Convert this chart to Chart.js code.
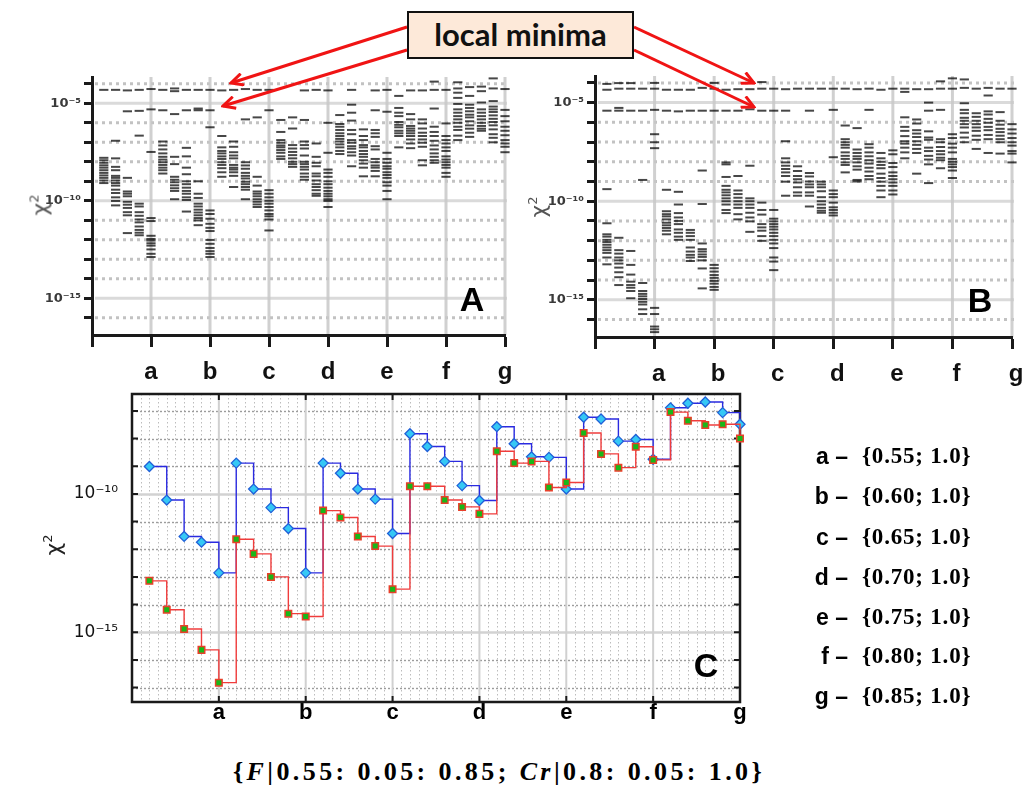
<!DOCTYPE html>
<html><head><meta charset="utf-8">
<script src="https://cdn.jsdelivr.net/npm/chart.js@4.4.1/dist/chart.umd.min.js"></script>
<style>
html,body{margin:0;padding:0;background:#fff;width:1031px;height:787px;overflow:hidden;position:relative;font-family:'Liberation Sans',Arial,sans-serif;}
canvas{position:absolute;}
.chi{position:absolute;transform:translate(-50%,-50%) rotate(-90deg);font:22px 'DejaVu Sans';white-space:nowrap;}
.chi sup{font-size:13px;vertical-align:9px;line-height:0;}
.big{position:absolute;transform:translate(-50%,-50%);font:700 34px 'Liberation Sans';color:#000;line-height:1;}
.lrow{position:absolute;height:30px;line-height:30px;white-space:nowrap;}
.lrow .let{position:absolute;right:183px;font:700 23px 'Liberation Sans';}
.lrow .par{position:absolute;left:862px;font:700 23px 'Liberation Serif';letter-spacing:0.8px;}
#formula{position:absolute;left:499px;top:772px;transform:translate(-50%,-50%);font:700 26px 'Liberation Serif';letter-spacing:3.4px;white-space:nowrap;}
#lm{position:absolute;left:407px;top:11px;width:227px;height:48px;box-sizing:border-box;border:2.5px solid #111;background:#fde9d9;font:700 31px Lato;text-align:center;line-height:42px;color:#111;}
</style></head><body>
<canvas id="cA" width="530" height="340" style="left:0;top:60px;width:530px;height:340px"></canvas>
<canvas id="cB" width="530" height="340" style="left:500px;top:60px;width:530px;height:340px"></canvas>
<canvas id="cC" width="760" height="360" style="left:0;top:380px;width:760px;height:360px"></canvas>

<svg width="1031" height="130" style="position:absolute;left:0;top:0">
<defs><marker id="ah" viewBox="0 0 15 14" markerWidth="15" markerHeight="14" refX="13" refY="7" orient="auto" markerUnits="userSpaceOnUse"><path d="M1,1 L13,7 L1,13" fill="none" stroke="#f01414" stroke-width="3"/></marker></defs>
<g stroke="#f01414" stroke-width="3" fill="none">
<line x1="407" y1="27" x2="231" y2="83" marker-end="url(#ah)"/>
<line x1="407" y1="50" x2="223" y2="106" marker-end="url(#ah)"/>
<line x1="634" y1="27" x2="754" y2="83" marker-end="url(#ah)"/>
<line x1="634" y1="50" x2="754" y2="107" marker-end="url(#ah)"/>
</g></svg>
<div id="lm">local minima</div>

<div class="chi" style="left:40px;top:205px;color:#555">χ<sup>2</sup></div>
<div class="chi" style="left:538px;top:207px;color:#555">χ<sup>2</sup></div>
<div class="chi" style="left:53px;top:545px;color:#222">χ<sup>2</sup></div>
<div class="big" style="left:472px;top:299px">A</div>
<div class="big" style="left:980px;top:300px">B</div>
<div class="big" style="left:706px;top:665px">C</div>
<div id="legend"></div>
<div id="formula">{<i>F</i>|0.55: 0.05: 0.85; <i>Cr</i>|0.8: 0.05: 1.0}</div>

<script>
// ---------- data ----------
const groupLabels = ['a','b','c','d','e','f','g'];
const fValues = ['0.55','0.60','0.65','0.70','0.75','0.80','0.85'];
const crValue = '1.0';
const xTickValues = [0,1,2,3,4,5,6,7];
const xPositions = [0.2,0.4,0.6,0.8,1.0, 1.2,1.4,1.6,1.8,2.0, 2.2,2.4,2.6,2.8,3.0, 3.2,3.4,3.6,3.8,4.0, 4.2,4.4,4.6,4.8,5.0, 5.2,5.4,5.6,5.8,6.0, 6.2,6.4,6.6,6.8,7.0];
const decadeTicksAB = [1e-16,1e-15,1e-14,1e-13,1e-12,1e-11,1e-10,1e-9,1e-8,1e-7,1e-6,1e-5,1e-4];
const decadeTicksC = [1e-17,1e-16,1e-15,1e-14,1e-13,1e-12,1e-11,1e-10,1e-9,1e-8,1e-7];
const labeledDecades = [-5,-10,-15];

// Panel A: chi^2 of runs, 5 Cr columns per F group
const A_a = [
[4.9e-5,1.6e-8,1.2e-8,8.9e-9,6.6e-9,5.0e-9,3.7e-9,2.7e-9,2.0e-9,1.5e-9,1.1e-9,8.1e-10],
[4.9e-5,1.2e-7,1.5e-8,5.5e-9,3.7e-9,1.9e-9,1.5e-9,1.1e-9,8.1e-10,6.0e-10,3.7e-10,2.5e-10,1.5e-10,9.8e-11,5.8e-11],
[4.6e-5,3.9e-6,1.5e-9,3.0e-10,2.3e-10,1.7e-10,8.9e-11,6.3e-11,4.3e-11,2.6e-11,1.8e-11,2.2e-12],
[4.9e-5,4.1e-6,2.2e-7,7.1e-11,5.1e-11,2.6e-11,1.7e-11,1.1e-11,7.8e-12,4.8e-12,3.2e-12,2.3e-12,1.7e-12],
[5.4e-5,4.9e-6,3.2e-8,1.3e-11,9.1e-12,1.6e-12,1.1e-12,9.1e-13,6.6e-13,5.0e-13,3.2e-13,1.9e-13,1.3e-13]];
const A_b = [
[4.9e-5,4.4e-6,1.1e-7,6.9e-8,4.3e-8,2.7e-8,1.8e-8,1.3e-8,9.5e-9,6.9e-9,5.0e-9,3.7e-9,2.5e-9],
[5.8e-5,4.2e-5,2.8e-6,1.8e-8,7.6e-9,1.7e-9,1.2e-9,8.9e-10,6.2e-10,4.4e-10,3.2e-10,1.2e-10],
[4.9e-5,4.4e-6,5.2e-8,1.9e-8,5.0e-9,2.3e-9,1.0e-9,7.1e-10,4.7e-10,3.2e-10,2.3e-10,1.5e-10,1.1e-10,2.8e-11],
[4.9e-5,5.4e-6,4.4e-6,1.0e-9,2.3e-10,1.4e-10,7.1e-11,5.1e-11,3.5e-11,2.5e-11,1.8e-11,1.3e-11,9.8e-12,5.6e-12],
[4.9e-5,4.4e-6,5.9e-7,3.2e-11,2.1e-11,1.2e-11,6.6e-12,4.1e-12,2.8e-12,9.8e-13,6.2e-13,3.8e-13,2.6e-13,1.9e-13,1.3e-13]];
const A_c = [
[4.6e-5,2.1e-7,5.5e-8,3.6e-8,2.7e-8,1.9e-8,1.4e-8,9.5e-9,6.9e-9,4.7e-9,2.9e-9,1.7e-9],
[4.9e-5,1.1e-7,5.9e-8,3.1e-8,2.1e-8,1.5e-8,6.9e-9,5.0e-9,4.0e-9,2.9e-9,1.9e-9,5.1e-10],
[5.4e-5,1.5e-6,9.5e-9,6.5e-9,4.4e-9,2.7e-9,1.9e-9,1.4e-9,9.5e-10,7.1e-10,5.1e-10,3.7e-10,1.2e-10],
[4.9e-5,1.9e-6,1.7e-9,6.0e-10,3.0e-10,2.3e-10,1.7e-10,1.2e-10,8.9e-11,6.5e-11,4.8e-11],
[4.9e-5,4.4e-6,3.5e-10,2.3e-10,1.5e-10,1.0e-10,7.1e-11,4.8e-11,3.2e-11,2.1e-11,1.6e-11,1.1e-11,3.0e-12]];
const A_d = [
[1.4e-6,3.4e-7,1.3e-7,9.5e-8,6.9e-8,5.5e-8,4.0e-8,2.9e-8,1.9e-8,1.4e-8],
[1.9e-6,5.1e-7,7.2e-8,4.8e-8,3.2e-8,2.2e-8,1.5e-8,1.0e-8,7.6e-9,5.5e-9],
[4.6e-5,1.4e-6,1.1e-7,7.2e-8,4.8e-8,2.1e-8,1.0e-8,7.6e-9,5.5e-9,4.0e-9,2.5e-9,1.7e-9,1.2e-9],
[4.9e-5,8.7e-8,1.8e-8,8.9e-9,5.9e-9,2.5e-9,1.8e-9,1.1e-9,7.1e-10,5.1e-10,3.5e-10,2.3e-10,1.8e-10],
[4.6e-5,1.0e-6,2.9e-8,4.0e-9,2.7e-9,1.7e-9,1.0e-9,7.1e-10,4.7e-10,3.2e-10,2.3e-10,1.7e-10,1.2e-10,9.8e-11,4.8e-11]];
const A_e = [
[2.5e-6,8.7e-7,6.3e-7,4.3e-7,2.9e-7,2.1e-7,1.5e-7,1.1e-7,7.8e-8,5.5e-8,3.6e-8,2.5e-8],
[4.9e-5,8.5e-6,3.3e-6,1.3e-6,4.3e-7,2.6e-7,1.3e-7,9.5e-8,6.3e-8,4.7e-8,3.1e-8,2.1e-8,5.9e-9],
[4.6e-7,2.1e-7,1.3e-7,7.2e-8,5.5e-8,3.6e-8,2.5e-8,1.8e-8,1.2e-8,8.1e-9,5.0e-9,1.8e-9],
[4.6e-5,4.4e-6,4.3e-7,2.9e-7,1.9e-7,6.3e-8,4.3e-8,1.4e-8,9.5e-9,6.5e-9,5.0e-9,3.4e-9,1.8e-9],
[4.9e-5,3.7e-6,2.9e-8,1.4e-8,8.9e-9,5.9e-9,4.4e-9,2.9e-9,2.1e-9,1.5e-9,8.9e-10,6.0e-10,3.2e-10,1.2e-10]];
const A_f = [
[2.4e-5,5.8e-6,3.3e-6,2.2e-6,1.1e-6,7.9e-7,5.9e-7,3.9e-7,2.9e-7,2.1e-7,5.5e-8],
[4.6e-5,2.8e-6,1.5e-6,6.9e-7,5.1e-7,3.9e-7,2.9e-7,2.1e-7,1.4e-7,8.7e-8,5.0e-8],
[4.6e-5,1.5e-6,9.3e-7,5.1e-7,3.1e-7,2.1e-7,1.4e-7,9.5e-8,5.9e-8,1.2e-8,6.6e-9],
[1.3e-4,4.9e-5,5.4e-6,6.3e-7,3.4e-7,2.1e-7,1.2e-7,6.9e-8,4.3e-8,2.7e-8,1.8e-8,1.2e-8,8.9e-9],
[4.9e-5,9.3e-7,2.1e-7,1.3e-7,8.7e-8,5.5e-8,3.6e-8,1.9e-8,1.3e-8,9.5e-9,6.9e-9,5.0e-9,2.7e-9,1.7e-9]];
const A_g = [
[1.2e-4,5.8e-5,3.5e-5,1.9e-5,9.3e-6,4.9e-6,3.3e-6,2.2e-6,1.5e-6,1.0e-6,6.3e-7,4.3e-7,2.2e-7,1.3e-7],
[6.8e-5,2.4e-5,8.5e-6,5.8e-6,3.9e-6,2.6e-6,1.9e-6,1.2e-6,7.4e-7,5.0e-7,3.1e-7,1.9e-7],
[7.2e-5,4.2e-5,1.1e-5,4.9e-6,3.3e-6,2.2e-6,1.5e-6,1.0e-6,6.9e-7,5.0e-7,3.9e-7],
[1.9e-4,5.8e-5,1.3e-5,6.8e-6,4.9e-6,3.6e-6,2.4e-6,1.6e-6,1.1e-6,7.4e-7,4.6e-7,2.6e-7,1.7e-7,1.0e-7],
[5.4e-5,4.6e-6,2.2e-6,1.2e-6,6.3e-7,3.9e-7,2.3e-7,1.3e-7,8.7e-8,5.9e-8,3.1e-8]];

// Panel B
const B_a = [
[8.9e-5,4.5e-5,3.9e-6,4.1e-10,7.6e-12,2.1e-12,1.6e-12,1.1e-12,8.5e-13,6.2e-13,4.5e-13,3.3e-13,2.4e-13,1.4e-13,6.3e-14],
[9.8e-5,5.1e-5,5.4e-6,3.9e-6,1.4e-12,3.3e-13,2.2e-13,1.4e-13,1.0e-13,6.9e-14,4.3e-14,2.5e-14,1.4e-14,5.6e-15],
[9.8e-5,5.1e-5,3.9e-6,3.0e-13,5.9e-14,1.9e-14,8.3e-15,5.6e-15,4.1e-15,2.8e-15,1.2e-15],
[5.1e-5,3.9e-6,1.2e-9,7.1e-15,2.8e-15,2.0e-15,1.5e-15,1.1e-15,7.9e-16,5.8e-16,3.3e-16,1.9e-16],
[1.0e-4,5.1e-5,4.3e-6,2.5e-7,9.8e-8,4.9e-8,3.9e-16,1.9e-16,4.4e-17,3.2e-17,2.3e-17]];
const B_b = [
[4.5e-5,3.9e-6,3.8e-10,3.1e-11,2.2e-11,1.7e-11,1.2e-11,8.1e-12,6.0e-12,4.4e-12,3.2e-12,2.1e-12],
[4.5e-5,3.6e-6,3.0e-10,6.8e-11,2.5e-11,1.5e-11,1.0e-11,6.9e-12,3.7e-12,2.5e-12,1.6e-12,1.1e-12],
[4.5e-5,3.9e-6,3.5e-12,2.5e-12,1.7e-12,1.1e-12,4.5e-13,2.8e-13,1.9e-13,1.4e-13,9.3e-14],
[5.6e-5,3.9e-6,3.6e-9,7.2e-11,7.2e-13,3.7e-13,2.8e-13,2.0e-13,1.5e-13,1.0e-13,3.9e-14,3.8e-15],
[1.0e-4,5.1e-5,3.9e-6,5.9e-14,4.0e-14,2.7e-14,1.8e-14,1.3e-14,9.1e-15,6.6e-15,4.5e-15,3.2e-15]];
const B_c = [
[4.5e-5,3.9e-6,9.3e-9,7.4e-9,1.7e-9,6.0e-10,3.8e-10,2.8e-10,2.0e-10,1.4e-10,1.0e-10,6.8e-11,3.6e-11,2.5e-11],
[4.8e-5,3.9e-6,1.9e-9,3.5e-10,2.3e-10,1.5e-10,1.0e-10,6.8e-11,4.6e-11,2.2e-11,1.2e-11],
[4.8e-5,4.6e-6,6.3e-9,1.4e-10,1.0e-10,6.8e-11,4.6e-11,2.6e-11,1.5e-11,9.5e-12,2.8e-12],
[1.1e-4,5.1e-5,3.9e-6,8.5e-11,3.6e-11,2.1e-11,6.9e-12,4.7e-12,3.2e-12,1.7e-12,9.8e-13],
[5.1e-5,3.9e-6,3.6e-11,1.3e-11,9.5e-12,6.9e-12,5.1e-12,3.7e-12,2.5e-12,1.7e-12,1.1e-12,7.2e-13,4.2e-13,1.4e-13,8.7e-14,3.2e-14]];
const B_d = [
[4.8e-5,3.9e-6,1.1e-7,1.5e-8,9.3e-9,6.3e-9,4.3e-9,2.9e-9,1.9e-9,9.8e-10,1.9e-10],
[5.1e-5,5.9e-9,3.4e-9,1.9e-9,1.3e-9,8.9e-10,5.1e-10,2.8e-10,1.9e-10],
[5.1e-5,3.9e-6,2.7e-9,1.8e-9,1.0e-9,7.1e-10,5.1e-10,2.8e-10,1.9e-10,5.4e-11],
[5.1e-5,9.8e-10,7.1e-10,5.1e-10,3.2e-10,1.6e-10,1.0e-10,6.8e-11,4.6e-11,3.3e-11,2.6e-11],
[5.1e-5,4.3e-6,1.7e-8,3.5e-10,2.3e-10,1.6e-10,8.5e-11,4.9e-11,3.6e-11,2.6e-11,1.9e-11]];
const B_e = [
[5.1e-5,6.9e-7,1.4e-7,9.8e-8,7.2e-8,5.2e-8,3.0e-8,2.0e-8,1.4e-8,9.3e-9,6.9e-9,2.9e-9],
[4.8e-5,5.1e-7,4.2e-8,2.8e-8,1.9e-8,1.4e-8,9.3e-9,5.9e-9,4.0e-9,1.2e-9,1.0e-9],
[5.1e-5,4.3e-6,7.8e-8,5.2e-8,3.0e-8,1.9e-8,1.2e-8,8.1e-9,5.0e-9,3.2e-9,1.9e-9,1.3e-9],
[4.5e-5,2.8e-8,1.5e-8,1.0e-8,6.9e-9,4.7e-9,2.5e-9,1.5e-9,9.8e-10,6.0e-10,3.5e-10,1.6e-10],
[5.1e-5,3.8e-8,2.4e-8,8.7e-9,5.4e-9,2.9e-9,1.9e-9,1.3e-9,8.9e-10,6.0e-10,3.5e-10,2.2e-10]];
const B_f = [
[5.1e-5,3.5e-5,1.8e-6,5.9e-7,3.7e-7,2.0e-7,1.1e-7,8.3e-8,5.2e-8,3.0e-8,1.5e-8],
[4.8e-5,1.4e-6,8.7e-7,4.0e-7,2.7e-7,1.8e-7,1.1e-7,7.2e-8,4.5e-8,2.8e-8,2.5e-9],
[4.8e-5,1.0e-5,3.9e-6,3.5e-7,1.7e-7,1.3e-7,5.2e-8,3.5e-8,2.0e-8,1.3e-8,7.4e-9,8.3e-10],
[1.2e-4,5.1e-5,4.3e-6,1.4e-7,9.8e-8,5.6e-8,3.5e-8,2.4e-8,1.6e-8,1.2e-8,4.7e-9],
[1.7e-4,5.1e-5,2.5e-7,1.6e-7,8.3e-8,5.2e-8,3.0e-8,1.4e-8,1.0e-8,7.4e-9,5.4e-9,3.6e-9,1.5e-9]];
const B_g = [
[1.5e-4,5.6e-5,9.3e-6,4.3e-6,2.9e-6,1.7e-6,1.2e-6,8.1e-7,5.5e-7,3.0e-7,1.7e-7,9.8e-8],
[5.1e-5,2.9e-6,1.9e-6,1.2e-6,8.1e-7,5.5e-7,3.7e-7,2.1e-7,1.3e-7,4.5e-8],
[5.6e-5,2.3e-5,3.6e-6,2.5e-6,1.5e-6,9.5e-7,5.9e-7,4.0e-7,2.3e-7,1.4e-7,2.8e-8],
[5.1e-5,3.3e-6,1.2e-6,7.6e-7,4.7e-7,3.2e-7,2.1e-7,1.4e-7,9.8e-8,2.6e-8],
[5.1e-5,8.1e-7,4.4e-7,2.7e-7,1.6e-7,9.8e-8,6.6e-8,3.5e-8,2.6e-8,9.3e-9]];

// Panel C: best chi^2 per (F, Cr) setting for two strategies
const C_blue = [9.8e-10,6.0e-11,2.9e-12,1.8e-12,1.4e-13, 1.3e-9,1.5e-10,3.2e-11,5.6e-12,1.4e-13,
  1.3e-9,5.6e-10,1.5e-10,6.5e-11,3.7e-12, 1.5e-8,5.2e-9,1.5e-9,2.0e-10,5.8e-11,
  2.7e-8,6.5e-9,2.2e-9,2.1e-9,1.5e-10, 5.9e-8,5.1e-8,8.1e-9,9.3e-9,1.8e-9,
  1.3e-7,1.9e-7,2.1e-7,8.7e-8,3.3e-8];
const C_red = [7.2e-14,6.5e-15,1.3e-15,2.3e-16,1.5e-17, 2.3e-12,6.8e-13,1.0e-13,4.7e-15,3.7e-15,
  2.5e-11,1.4e-11,2.9e-12,1.3e-12,3.6e-14, 1.9e-10,1.9e-10,6.0e-11,3.4e-11,1.9e-11,
  3.5e-9,1.3e-9,1.5e-9,1.7e-10,2.6e-10, 1.6e-8,2.8e-9,8.9e-10,5.1e-9,1.7e-9,
  9.1e-8,4.4e-8,3.1e-8,3.3e-8,1.0e-8];

// ---------- helpers ----------
const supMap = {'-':'⁻','0':'⁰','1':'¹','2':'²','3':'³','4':'⁴','5':'⁵','6':'⁶','7':'⁷','8':'⁸','9':'⁹'};
const sup = e => String(e).split('').map(c => supMap[c]).join('');
const decadeLabel = v => { const e = Math.round(Math.log10(v)); return labeledDecades.includes(e) ? '10' + sup(e) : ''; };

const gridABPlugin = { id: 'gridAB', beforeDraw(chart) {
  const {ctx, chartArea: a, scales: {x, y}} = chart;
  ctx.save();
  ctx.lineWidth = 3;
  decadeTicksAB.forEach(v => {
    const e = Math.round(Math.log10(v)); const py = y.getPixelForValue(v);
    ctx.beginPath();
    if (e % 5 === 0) { ctx.setLineDash([]); ctx.strokeStyle = '#dadada'; }
    else { ctx.setLineDash([3, 4]); ctx.strokeStyle = '#c2c2c2'; }
    ctx.moveTo(a.left + 3, py); ctx.lineTo(a.right + 2, py); ctx.stroke();
  });
  ctx.setLineDash([]); ctx.strokeStyle = 'rgba(200,200,200,0.85)';
  xTickValues.slice(1).forEach(k => { const px = x.getPixelForValue(k);
    ctx.beginPath(); ctx.moveTo(px, a.top); ctx.lineTo(px, a.bottom); ctx.stroke(); });
  ctx.restore();
}};

function abChart(id, groups, o) {
  const cols = [].concat(...groups);
  const pts = [];
  cols.forEach((col, i) => col.forEach(v => pts.push({x: xPositions[i], y: v})));
  return new Chart(document.getElementById(id), {
    type: 'scatter',
    data: { datasets: [{ data: pts, pointStyle: 'line', pointRadius: 4.6, pointHoverRadius: 4.6,
      borderColor: 'rgba(0,0,0,0.72)', pointBorderColor: 'rgba(0,0,0,0.72)', borderWidth: 2, pointBorderWidth: 2, clip: false }] },
    options: {
      responsive: false, animation: false, events: [], devicePixelRatio: 1,
      layout: { padding: { left: 0, top: o.top, right: o.right, bottom: 0 } },
      plugins: { legend: { display: false }, tooltip: { enabled: false } },
      scales: {
        x: { type: 'linear', min: 0, max: 7,
          afterBuildTicks: s => { s.ticks = xTickValues.map(v => ({ value: v })); },
          afterFit: s => { s.height = o.xh; s.paddingLeft = 0; s.paddingRight = 0; },
          ticks: { autoSkip: false, maxRotation: 0, padding: 11, labelOffset: o.lo, color: '#111',
            font: { family: "'Liberation Sans'", size: 24, weight: 'bold' },
            callback: v => v >= 1 ? groupLabels[v - 1] : '' },
          grid: { drawOnChartArea: false, drawTicks: true, tickLength: 12, tickWidth: 3, tickColor: '#1a1a1a' },
          border: { display: true, width: 3, color: '#1a1a1a' } },
        y: { type: 'logarithmic', min: 1.3e-17, max: 2.24e-4,
          afterBuildTicks: s => { s.ticks = decadeTicksAB.map(v => ({ value: v })); },
          afterFit: s => { s.width = o.yw; s.paddingTop = 0; s.paddingBottom = 0; },
          ticks: { autoSkip: false, padding: 3, color: '#3a3a3a',
            font: { family: "'DejaVu Sans'", size: 13, weight: 'bold' }, callback: decadeLabel },
          grid: { drawOnChartArea: false, drawTicks: true, tickLength: 8, tickWidth: 3, tickColor: '#1a1a1a' },
          border: { display: true, width: 3, color: '#1a1a1a' } }
      }
    },
    plugins: [gridABPlugin]
  });
}

abChart('cA', [A_a, A_b, A_c, A_d, A_e, A_f, A_g], { top: 17, right: 25, xh: 65, yw: 92, lo: 0 });
abChart('cB', [B_a, B_b, B_c, B_d, B_e, B_f, B_g], { top: 16, right: 18, xh: 63, yw: 95, lo: 4 });

const gridCPlugin = { id: 'gridC',
  beforeDraw(chart) {
    const {ctx, chartArea: a, scales: {x, y}} = chart;
    ctx.save();
    ctx.lineWidth = 1; ctx.strokeStyle = '#bcbcbc'; ctx.setLineDash([1.5, 2.5]);
    for (let k = 1; k < 70; k++) { if (k % 10 === 0) continue;
      const px = Math.round(x.getPixelForValue(k / 10)) + 0.5;
      ctx.beginPath(); ctx.moveTo(px, a.top); ctx.lineTo(px, a.bottom); ctx.stroke(); }
    decadeTicksC.forEach(v => { const e = Math.round(Math.log10(v)); const py = Math.round(y.getPixelForValue(v)) + 0.5;
      ctx.beginPath();
      if (e % 5 === 0) { ctx.setLineDash([]); ctx.lineWidth = 2.5; ctx.strokeStyle = '#d2d2d2'; }
      else { ctx.setLineDash([2, 2]); ctx.lineWidth = 1.4; ctx.strokeStyle = '#9c9c9c'; }
      ctx.moveTo(a.left, py); ctx.lineTo(a.right, py); ctx.stroke(); });
    ctx.setLineDash([]); ctx.lineWidth = 2; ctx.strokeStyle = '#d0d0d0';
    xTickValues.slice(1, 7).forEach(k => { const px = x.getPixelForValue(k);
      ctx.beginPath(); ctx.moveTo(px, a.top); ctx.lineTo(px, a.bottom); ctx.stroke(); });
    ctx.restore();
  },
  beforeDatasetsDraw(chart) {
    const {ctx, chartArea: a, scales: {x, y}} = chart;
    ctx.save();
    ctx.strokeStyle = '#1a1a1a'; ctx.lineWidth = 2.5;
    ctx.strokeRect(a.left, a.top, a.right - a.left, a.bottom - a.top);
    ctx.lineWidth = 2;
    decadeTicksC.forEach(v => { const py = y.getPixelForValue(v);
      ctx.beginPath(); ctx.moveTo(a.left, py); ctx.lineTo(a.left + 6, py);
      ctx.moveTo(a.right, py); ctx.lineTo(a.right - 6, py); ctx.stroke(); });
    xTickValues.slice(1, 7).forEach(k => { const px = x.getPixelForValue(k);
      ctx.beginPath(); ctx.moveTo(px, a.top); ctx.lineTo(px, a.top + 6);
      ctx.moveTo(px, a.bottom); ctx.lineTo(px, a.bottom - 6); ctx.stroke(); });
    ctx.restore();
  }
};

new Chart(document.getElementById('cC'), {
  type: 'line',
  data: { datasets: [
    { data: C_red.map((v, i) => ({ x: xPositions[i], y: v })), stepped: true, borderColor: '#f03c3c', borderWidth: 1.4,
      pointStyle: 'rect', pointRadius: 4.6, pointHoverRadius: 4.6, pointBackgroundColor: '#18b818', pointBorderColor: '#e8402a', pointBorderWidth: 1.5, clip: false },
    { data: C_blue.map((v, i) => ({ x: xPositions[i], y: v })), stepped: true, borderColor: '#2a2ae0', borderWidth: 1.4,
      pointStyle: 'rectRot', pointRadius: 5, pointHoverRadius: 5, pointBackgroundColor: '#35c8f5', pointBorderColor: '#2060d8', pointBorderWidth: 1.3, clip: false }
  ] },
  options: {
    responsive: false, animation: false, events: [], devicePixelRatio: 1,
    layout: { padding: { left: 0, top: 14, right: 20, bottom: 0 } },
    plugins: { legend: { display: false }, tooltip: { enabled: false } },
    scales: {
      x: { type: 'linear', min: 0, max: 7,
        afterBuildTicks: s => { s.ticks = xTickValues.map(v => ({ value: v })); },
        afterFit: s => { s.height = 38; s.paddingLeft = 0; s.paddingRight = 0; },
        ticks: { autoSkip: false, maxRotation: 0, padding: -2, color: '#000',
          font: { family: "'Liberation Sans'", size: 22, weight: 'bold' },
          callback: v => v >= 1 ? groupLabels[v - 1] : '' },
        grid: { display: true, drawOnChartArea: false, drawTicks: false }, border: { display: false } },
      y: { type: 'logarithmic', min: 3.2e-18, max: 4.1e-7,
        afterBuildTicks: s => { s.ticks = decadeTicksC.map(v => ({ value: v })); },
        afterFit: s => { s.width = 132; s.paddingTop = 0; s.paddingBottom = 0; },
        ticks: { autoSkip: false, padding: 14, color: '#111',
          font: { family: "'DejaVu Sans'", size: 17 }, callback: decadeLabel },
        grid: { display: true, drawOnChartArea: false, drawTicks: false }, border: { display: false } }
    }
  },
  plugins: [gridCPlugin]
});

// legend text
const legendY = [458, 498, 539, 579, 619, 658, 698];
const leg = document.getElementById('legend');
groupLabels.forEach((g, i) => {
  const row = document.createElement('div');
  row.className = 'lrow';
  row.style.left = '0px'; row.style.width = '1031px'; row.style.top = (legendY[i] - 15) + 'px';
  const a = document.createElement('span'); a.className = 'let'; a.textContent = g + ' –';
  const b = document.createElement('span'); b.className = 'par'; b.textContent = '{' + fValues[i] + '; ' + crValue + '}';
  row.appendChild(a); row.appendChild(b); leg.appendChild(row);
});
</script>
</body></html>
